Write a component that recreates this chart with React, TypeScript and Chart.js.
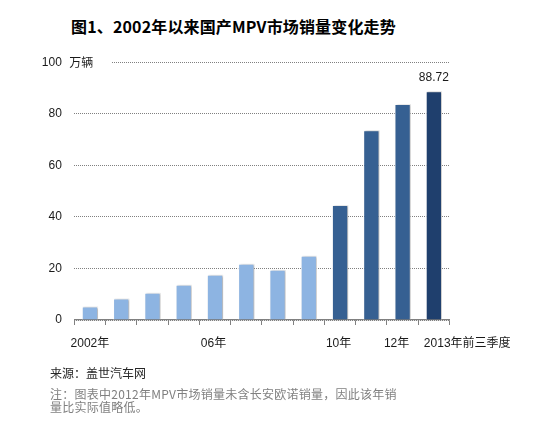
import React, { useEffect, useRef } from 'react';
import { Chart, registerables } from 'chart.js';

Chart.register(...registerables);

const YEARS = ['2002', '2003', '2004', '2005', '2006', '2007', '2008', '2009', '2010', '2011', '2012', '2013前三季度'];
const SALES = [5.2, 8.3, 10.6, 13.7, 17.6, 21.8, 19.5, 24.9, 44.6, 73.6, 83.8, 88.72];
const X_LABELS = ['2002年', '', '', '', '06年', '', '', '', '10年', '', '12年', '2013年前三季度'];
const Y_MIN = 0;
const Y_MAX = 100;
const Y_STEP = 20;
const UNIT = '万辆';
const TITLE = '图1、2002年以来国产MPV市场销量变化走势';
const SOURCE = '来源：盖世汽车网';
const NOTE_LINES = ['注：图表中2012年MPV市场销量未含长安欧诺销量，因此该年销', '量比实际值略低。'];

const LIGHT = '#8DB4E2';
const MID = '#366092';
const DARK = '#1F3F6D';
const BAR_COLORS = SALES.map((_, i) => (i < 8 ? LIGHT : i < 11 ? MID : DARK));

const FONT_FAMILY = '"Liberation Sans", "Noto Sans CJK SC", sans-serif';
const AXIS_GRAY = '#808080';

const decorPlugin = {
  id: 'decor',
  beforeDatasetsDraw(chart: any) {
    const ctx = chart.ctx;
    ctx.save();
    ctx.shadowColor = 'rgba(0,0,0,0.28)';
    ctx.shadowBlur = 2;
    ctx.shadowOffsetX = 1.5;
    ctx.shadowOffsetY = 0;
  },
  afterDatasetsDraw(chart: any) {
    chart.ctx.restore();
  },
  afterDraw(chart: any) {
    const ctx = chart.ctx;
    const xs = chart.scales.x;
    const ys = chart.scales.y;
    const area = chart.chartArea;
    ctx.save();
    // unit label over the top gridline
    const yTop = ys.getPixelForValue(Y_MAX);
    ctx.fillStyle = '#ffffff';
    ctx.fillRect(area.left - 1, yTop - 3, 38, 6);
    ctx.fillStyle = '#1a1a1a';
    ctx.font = '12px ' + FONT_FAMILY;
    ctx.textBaseline = 'middle';
    ctx.textAlign = 'left';
    ctx.fillText(UNIT, area.left - 5, yTop + 1);

    // x labels
    const yLab = area.bottom + 23.5;
    X_LABELS.forEach((lab, i) => {
      if (!lab) return;
      const px = xs.getPixelForValue(i);
      if (i === X_LABELS.length - 1) {
        ctx.textAlign = 'left';
        ctx.fillText(lab, px - 10, yLab);
      } else {
        ctx.textAlign = 'center';
        const shift = i === 10 ? -6 : i === 0 ? 0 : -1.5;
        ctx.fillText(lab, px + shift, yLab);
      }
    });

    // value label above last bar
    const meta = chart.getDatasetMeta(0);
    const last = meta.data[meta.data.length - 1];
    ctx.textAlign = 'center';
    ctx.fillStyle = '#1a1a1a';
    ctx.fillText(SALES[SALES.length - 1].toFixed(2), last.x, last.y - 14);
    ctx.restore();
  },
};

export default function App() {
  const ref = useRef<HTMLCanvasElement | null>(null);

  useEffect(() => {
    if (!ref.current) return;
    const chart = new Chart(ref.current, {
      type: 'bar',
      data: {
        labels: YEARS,
        datasets: [
          {
            data: SALES,
            backgroundColor: BAR_COLORS,
            borderColor: '#ffffff',
            borderWidth: 1,
            categoryPercentage: 1,
            barPercentage: 0.52,
          },
        ],
      },
      options: {
        animation: false,
        responsive: true,
        maintainAspectRatio: false,
        devicePixelRatio: 1,
        layout: { padding: { left: 0, right: 90.5, top: 62.3, bottom: 81 } },
        plugins: { legend: { display: false }, tooltip: { enabled: false }, title: { display: false } },
        scales: {
          x: {
            afterFit: (s: any) => {
              s.height = 40;
            },
            ticks: { display: false },
            grid: {
              display: true,
              drawOnChartArea: false,
              drawTicks: true,
              tickLength: 5,
              color: AXIS_GRAY,
              lineWidth: 1,
            },
            border: { display: true, color: AXIS_GRAY, width: 1.3 },
          },
          y: {
            min: Y_MIN,
            max: Y_MAX,
            afterFit: (s: any) => {
              s.width = 74.3;
            },
            ticks: {
              stepSize: Y_STEP,
              padding: 12.5,
              color: '#1a1a1a',
              font: { family: FONT_FAMILY, size: 12 },
            },
            grid: { color: AXIS_GRAY, drawTicks: false, lineWidth: 1 },
            border: { display: false, dash: [1, 1] },
          },
        },
      },
      plugins: [decorPlugin],
    });
    return () => chart.destroy();
  }, []);

  return (
    <div style={{ position: 'absolute', left: 0, top: 0, width: 540, height: 441, background: '#fff', overflow: 'hidden' }}>
      <div
        style={{
          position: 'absolute',
          left: 71,
          top: 15,
          lineHeight: '22px',
          fontSize: 16,
          fontWeight: 'bold',
          fontFamily: '"Noto Sans CJK SC", sans-serif',
          color: '#000',
          whiteSpace: 'nowrap',
          letterSpacing: '0.15px',
        }}
      >
        {TITLE}
      </div>
      <canvas ref={ref} style={{ position: 'absolute', left: 0, top: 0, width: 540, height: 441 }} />
      <div
        style={{
          position: 'absolute',
          left: 50,
          top: 366,
          lineHeight: '14px',
          fontSize: 12,
          fontFamily: '"Noto Sans CJK SC", sans-serif',
          color: '#262626',
          whiteSpace: 'nowrap',
        }}
      >
        {SOURCE}
      </div>
      <div
        style={{
          position: 'absolute',
          left: 50,
          top: 386.5,
          lineHeight: '13px',
          fontSize: 12,
          fontFamily: '"Noto Sans CJK SC", sans-serif',
          color: '#808080',
          whiteSpace: 'nowrap',
          letterSpacing: '0.25px',
        }}
      >
        {NOTE_LINES.map((l, i) => (
          <div key={i}>{l}</div>
        ))}
      </div>
    </div>
  );
}
